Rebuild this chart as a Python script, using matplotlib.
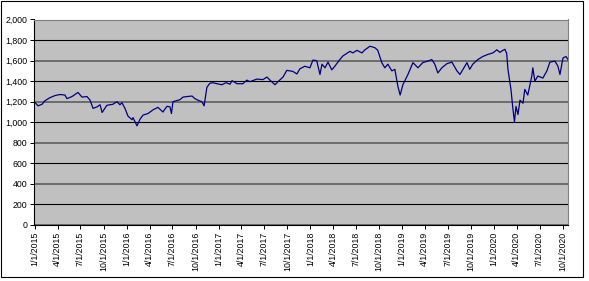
import numpy as np
import pandas as pd
import matplotlib
matplotlib.use("Agg")
import matplotlib.pyplot as plt
import matplotlib.dates as mdates
from matplotlib.patches import Rectangle

# values (approximate)
dates = [
    "2015-01-02", "2015-01-13", "2015-01-29", "2015-02-10", "2015-03-02", "2015-03-22",
    "2015-04-10", "2015-04-30", "2015-05-08", "2015-05-28", "2015-06-21", "2015-07-07",
    "2015-07-27", "2015-08-08", "2015-08-20", "2015-09-05", "2015-09-17", "2015-09-25",
    "2015-10-14", "2015-11-07", "2015-11-23", "2015-12-05", "2015-12-13", "2015-12-25",
    "2016-01-06", "2016-01-22", "2016-01-26", "2016-02-11", "2016-02-23", "2016-03-06",
    "2016-03-26", "2016-04-14", "2016-05-04", "2016-05-24", "2016-06-09", "2016-06-21",
    "2016-06-27", "2016-07-03", "2016-07-31", "2016-08-12", "2016-08-28", "2016-09-17",
    "2016-09-28", "2016-10-10", "2016-10-26", "2016-11-04", "2016-11-15", "2016-11-27",
    "2016-12-09", "2016-12-25", "2017-01-14", "2017-01-30", "2017-02-15", "2017-02-23",
    "2017-03-15", "2017-04-07", "2017-04-23", "2017-05-05", "2017-06-02", "2017-06-26",
    "2017-07-12", "2017-07-24", "2017-08-13", "2017-08-25", "2017-09-14", "2017-09-29",
    "2017-10-23", "2017-11-08", "2017-11-20", "2017-12-10", "2017-12-30", "2018-01-11",
    "2018-01-26", "2018-02-08", "2018-02-16", "2018-02-28", "2018-03-12", "2018-03-27",
    "2018-04-08", "2018-04-28", "2018-05-10", "2018-06-07", "2018-06-19", "2018-07-05",
    "2018-07-25", "2018-08-06", "2018-08-26", "2018-09-15", "2018-09-26", "2018-10-12",
    "2018-10-24", "2018-11-05", "2018-11-21", "2018-12-03", "2018-12-15", "2018-12-24",
    "2019-01-04", "2019-01-24", "2019-02-13", "2019-03-05", "2019-03-24", "2019-04-13",
    "2019-04-29", "2019-05-11", "2019-05-23", "2019-06-08", "2019-06-28", "2019-07-18",
    "2019-08-07", "2019-08-19", "2019-08-31", "2019-09-16", "2019-09-27", "2019-10-09",
    "2019-10-29", "2019-11-18", "2019-12-08", "2019-12-28", "2020-01-13", "2020-01-25",
    "2020-02-06", "2020-02-14", "2020-02-21", "2020-02-26", "2020-03-09", "2020-03-17",
    "2020-03-23", "2020-03-29", "2020-04-06", "2020-04-14", "2020-04-26", "2020-05-03",
    "2020-05-15", "2020-05-31", "2020-06-04", "2020-06-12", "2020-06-24", "2020-07-14",
    "2020-07-30", "2020-08-11", "2020-08-31", "2020-09-12", "2020-09-20", "2020-10-02",
    "2020-10-14", "2020-10-22",
]
values = [
    1190, 1160, 1175, 1210, 1240, 1260,
    1270, 1265, 1230, 1250, 1290, 1245,
    1250, 1215, 1135, 1150, 1170, 1095,
    1165, 1175, 1200, 1170, 1190, 1135,
    1060, 1025, 1045, 965, 1030, 1070,
    1085, 1120, 1145, 1100, 1155, 1150,
    1085, 1200, 1220, 1245, 1250, 1255,
    1230, 1215, 1200, 1160, 1340, 1380,
    1385, 1375, 1365, 1385, 1370, 1405,
    1375, 1375, 1410, 1395, 1420, 1415,
    1440, 1410, 1365, 1395, 1440, 1505,
    1495, 1470, 1520, 1545, 1530, 1605,
    1600, 1465, 1565, 1530, 1585, 1510,
    1545, 1610, 1645, 1690, 1675, 1700,
    1675, 1705, 1740, 1725, 1700, 1580,
    1530, 1565, 1500, 1515, 1350, 1265,
    1365, 1465, 1580, 1530, 1580, 1595,
    1610, 1565, 1480, 1530, 1570, 1585,
    1500, 1465, 1515, 1580, 1515, 1565,
    1610, 1640, 1660, 1675, 1705, 1680,
    1700, 1710, 1670, 1515, 1320, 1125,
    1005, 1155, 1075, 1215, 1185, 1320,
    1265, 1450, 1530, 1400, 1450, 1430,
    1500, 1585, 1595, 1545, 1465, 1625,
    1640, 1610,
]
quarters = pd.date_range("2015-01-01", "2020-10-01", freq="QS")
quarter_labels = [f"{d.month}/{d.day}/{d.year}" for d in quarters]
y_ticks = list(range(0, 2001, 200))

plt.rcParams['font.family'] = ['Liberation Sans', 'DejaVu Sans']

fig = plt.figure(figsize=(5.89, 2.81), dpi=100)
ax = fig.add_axes([34 / 589, 56 / 281, 534 / 589, 205.5 / 281])
ax.set_facecolor('#C0C0C0')

x = pd.to_datetime(dates)
ax.plot(x, values, color='#000080', lw=0.9)

ax.set_ylim(0, 2000)
ax.set_yticks(y_ticks)
ax.set_yticklabels([f"{v:,}" for v in y_ticks], fontsize=6.3)
ax.set_xticks(quarters)
ax.set_xticklabels(quarter_labels, rotation=90, fontsize=6.3)
ax.set_xlim(pd.Timestamp("2014-12-28"), pd.Timestamp("2020-10-22"))

ax.tick_params(axis='both', direction='out', length=3, width=0.7, color='black', pad=2)
ax.grid(axis='y', color='black', lw=0.8)
for v, gl in zip(y_ticks, ax.yaxis.get_gridlines()):
    if v % 400 == 0:
        gl.set_color('#666666')
        gl.set_linewidth(1.3)
ax.set_axisbelow(True)

for side in ['top', 'right']:
    ax.spines[side].set_color('#808080')
for side in ['left', 'bottom']:
    ax.spines[side].set_color('black')
for s in ax.spines.values():
    s.set_linewidth(0.8)

# chart border
fig.patches.append(Rectangle((1 / 589, 4 / 281), 582 / 589, 276 / 281,
                             transform=fig.transFigure, fill=False,
                             edgecolor='black', lw=0.8))

fig.savefig("out.png", dpi=100)
